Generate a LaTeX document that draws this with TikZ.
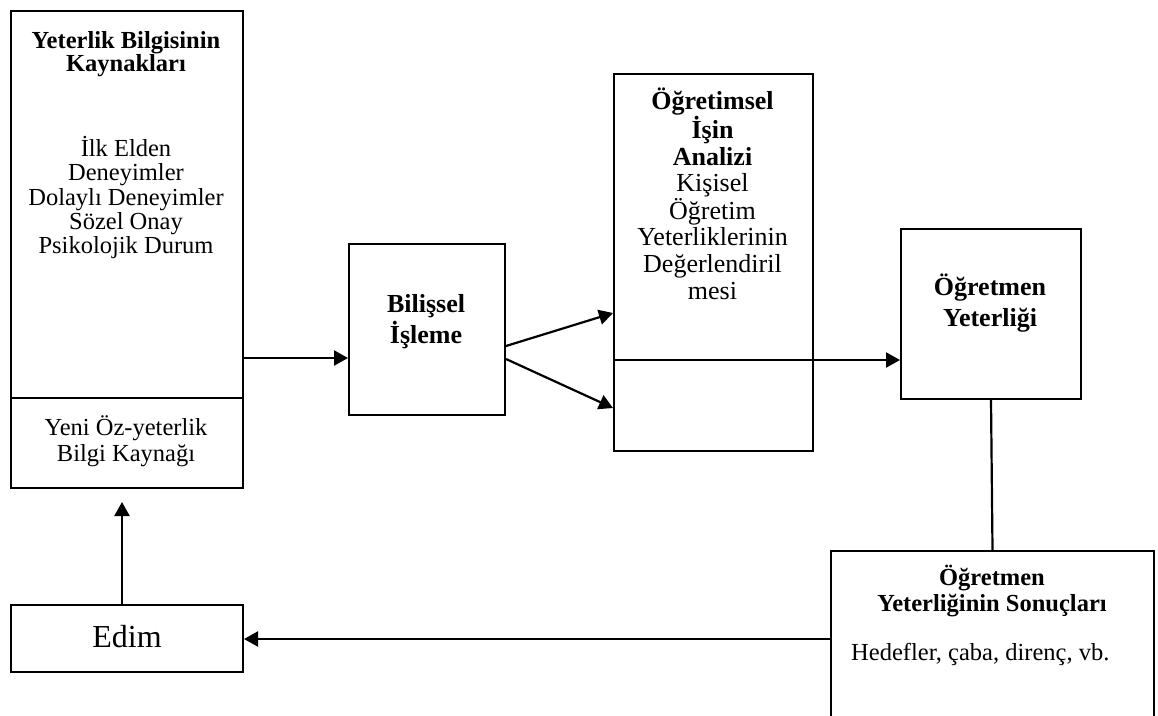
\documentclass[tikz,border=0pt]{standalone}
\usepackage{fontspec}
\setmainfont{Liberation Serif}
\usetikzlibrary{arrows.meta}
\begin{document}
\begin{tikzpicture}[x=1pt,y=-1pt,
  box/.style={draw, line width=2pt, inner sep=0pt, anchor=north west},
  txt/.style={align=center, inner sep=0pt},
  arr/.style={line width=2.2pt, -{Triangle[length=14pt,width=15pt]}},
  link/.style={line width=2.2pt}]
\useasboundingbox (0,0) rectangle (1158,715);

% boxes
\node[box, minimum width=232pt, minimum height=387pt] (src) at (10,10) {};
\node[box, minimum width=232pt, minimum height=90pt] (newsrc) at (10,397) {};
\node[box, minimum width=232pt, minimum height=67pt] (edim) at (10,604) {};
\node[box, minimum width=156pt, minimum height=171pt] (bil) at (348,243) {};
\node[box, minimum width=199pt, minimum height=377pt] (ogr) at (613,73) {};
\node[box, minimum width=180pt, minimum height=170pt] (yet) at (900,228) {};
\begin{scope}
  \clip (0,0) rectangle (1158,715);
  \node[box, minimum width=323pt, minimum height=190pt] (res) at (830,550) {};
\end{scope}

% texts
\node[txt, font=\fontsize{24.5}{23}\selectfont\bfseries] (srcT) at (126,54)
  {Yeterlik Bilgisinin\\Kaynakları};
\node[txt, font=\fontsize{24.5}{24.25}\selectfont] (srcL) at (126,197.5)
  {İlk Elden\\Deneyimler\\Dolaylı Deneyimler\\Sözel Onay\\Psikolojik Durum};
\node[txt, font=\fontsize{24.5}{26}\selectfont] (newsrcT) at (126,441)
  {Yeni Öz-yeterlik\\Bilgi Kaynağı};
\node[txt, font=\fontsize{32}{32}\selectfont] (edimT) at (127,637) {Edim};
\node[txt, font=\fontsize{26}{31}\selectfont\bfseries] (bilT) at (426,322)
  {Bilişsel\\İşleme};
\node[txt, font=\fontsize{26}{26.5}\selectfont] (ogrT) at (712.5,194)
  {\textbf{Öğretimsel}\\\textbf{İşin}\\\textbf{Analizi}\\Kişisel\\Öğretim\\Yeterliklerinin\\Değerlendiril\\[1pt]mesi};
\node[txt, font=\fontsize{26}{31}\selectfont\bfseries] (yetT) at (990,303)
  {Öğretmen\\Yeterliği};
\node[txt, font=\fontsize{24.5}{26}\selectfont\bfseries] (resT) at (992,591)
  {Öğretmen\\Yeterliğinin Sonuçları};
\node[txt, font=\fontsize{24.5}{26}\selectfont, anchor=west] (resL) at (851,654)
  {Hedefler, çaba, direnç, vb.};

% divider inside the analysis box
\draw[link] (ogr.west |- 0,360) -- (ogr.east |- 0,360);

% connectors
\draw[arr] (src.east |- 0,358) -- (bil.west |- 0,358);
\draw[arr] (bil.east |- 0,346) -- (ogr.west |- 0,313);
\draw[arr] (bil.east |- 0,359) -- (ogr.west |- 0,408);
\draw[arr] (ogr.east |- 0,360) -- (yet.west |- 0,360);
\draw[link] (yet.south) -- (res.north);
\draw[arr] (res.west |- 0,639) -- (edim.east |- 0,639);
\draw[arr, shorten >=13pt] (edim.north -| 122,0) -- (newsrc.south -| 122,0);
\end{tikzpicture}
\end{document}
